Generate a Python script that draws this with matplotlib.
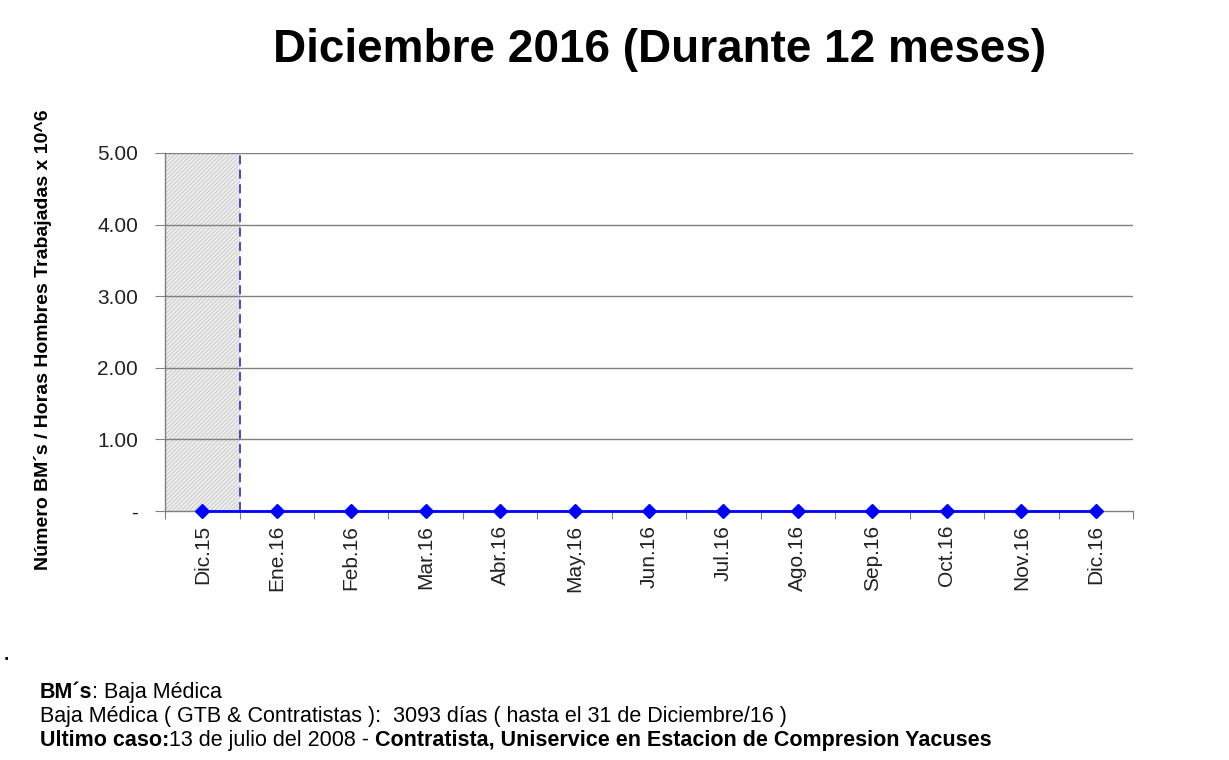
import matplotlib.pyplot as plt
import matplotlib.ticker as mticker

plt.rcParams["font.family"] = ["Liberation Sans", "DejaVu Sans"]
plt.rcParams["hatch.linewidth"] = 0.5
plt.rcParams["hatch.color"] = "#bdbdbd"

# data
meses = ["Dic.15", "Ene.16", "Feb.16", "Mar.16", "Abr.16", "May.16", "Jun.16",
         "Jul.16", "Ago.16", "Sep.16", "Oct.16", "Nov.16", "Dic.16"]
indice = [0, 0, 0, 0, 0, 0, 0, 0, 0, 0, 0, 0, 0]
y_ticks = [0, 1, 2, 3, 4, 5]

fig = plt.figure(figsize=(12.29, 7.6), dpi=100)
ax = fig.add_axes([0.1343, 0.3276, 0.7876, 0.4711])

x = list(range(len(meses)))

# shaded reference period (previous year)
ax.axvspan(-0.5, 0.5, facecolor="#eeeeee", edgecolor="#bdbdbd",
           hatch="////////", linewidth=0, zorder=0)
ax.plot([0.5, 0.5], [0, 5], color="#3a3acc", linestyle=(0, (5, 3)), lw=1.3, zorder=2)

# horizontal grid
for v in y_ticks[1:]:
    ax.axhline(v, color="#808080", lw=1, zorder=1)

ax.plot(x, indice, color="#0000ff", lw=2, marker="D", markersize=7,
        markerfacecolor="#0000ff", markeredgecolor="#0000ff", zorder=3, clip_on=False)

ax.set_xlim(-0.5, len(meses) - 0.5)
ax.set_ylim(0, 5)

ax.set_xticks([i + 0.5 for i in range(-1, len(meses))])
ax.set_xticklabels([])
ax.set_xticks(x, minor=True)
ax.set_xticklabels(meses, minor=True, rotation=90, fontsize=15, color="#222222")
ax.tick_params(axis="x", which="major", length=6, color="#808080", direction="out")
ax.tick_params(axis="x", which="minor", length=0, pad=10)

ax.set_yticks(y_ticks)
ax.yaxis.set_major_formatter(
    mticker.FuncFormatter(lambda v, p: "-" if v == 0 else f"{v:.2f}"))
ax.tick_params(axis="y", length=7, color="#808080", labelsize=15, pad=12.5,
               labelcolor="#222222")

for s in ["top", "right"]:
    ax.spines[s].set_visible(False)
for s in ["left", "bottom"]:
    ax.spines[s].set_color("#808080")
    ax.spines[s].set_linewidth(1)

ax.set_ylabel("Número BM´s / Horas Hombres Trabajadas x 10^6", fontsize=14,
              fontweight="bold")
ax.yaxis.set_label_coords(-0.117, 0.478)

fig.text(0.537, 0.934, "Diciembre 2016 (Durante 12 meses)", ha="center", va="center",
         fontsize=33, fontweight="bold")

# footnote with mixed weights
fs = 15.5
lines = [
    [("BM´s", True), (": Baja Médica", False)],
    [("Baja Médica ( GTB & Contratistas ):  3093 días ( hasta el 31 de Diciembre/16 )", False)],
    [("Ultimo caso:", True), ("13 de julio del 2008 - ", False),
     ("Contratista, Uniservice en Estacion de Compresion Yacuses", True)],
]
ys = [0.0816, 0.050, 0.0184]

for y, parts in zip(ys, lines):
    prev = None
    for txt, bold in parts:
        w = "bold" if bold else "normal"
        if prev is None:
            prev = fig.text(0.0325, y, txt, fontsize=fs, fontweight=w, va="baseline")
        else:
            prev = ax.annotate(txt, xy=(1, 0), xycoords=prev, xytext=(0, 0),
                               textcoords="offset points", fontsize=fs, fontweight=w,
                               va="bottom", ha="left", annotation_clip=False)

fig.text(0.004, 0.133, "■", fontsize=4)

fig.savefig("out.png", dpi=100)
